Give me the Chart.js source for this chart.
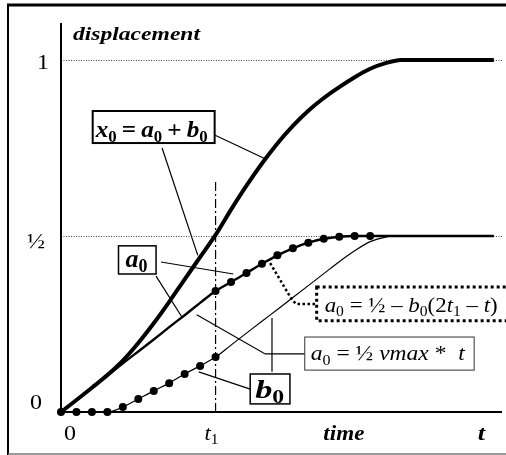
<!DOCTYPE html>
<html>
<head>
<meta charset="utf-8">
<script src="https://cdn.jsdelivr.net/npm/chart.js@4.4.0/dist/chart.umd.min.js"></script>
<style>
  html, body { margin: 0; padding: 0; background: #fff; }
  canvas { display: block; }
</style>
</head>
<body>
<canvas id="chart" width="506" height="455"></canvas>
<script>
// time axis in units of t1
const TIME = [0, 0.1, 0.2, 0.3, 0.4, 0.5, 0.6, 0.7, 0.8, 0.9, 1.0, 1.1, 1.2, 1.3, 1.4,
              1.5, 1.6, 1.7, 1.8, 1.9, 2.0, 2.1, 2.2, 2.3, 2.4, 2.5, 2.6, 2.7, 2.8];
// total displacement x0 = a0 + b0
const X0 = [0, 0.034, 0.069, 0.105, 0.146, 0.196, 0.252, 0.313, 0.377, 0.440, 0.503, 0.575, 0.643, 0.706, 0.763,
            0.813, 0.856, 0.892, 0.923, 0.951, 0.975, 0.991, 1.0, 1.0, 1.0, 1.0, 1.0, 1.0, 1.0];
const A0 = [0, 0.034, 0.069, 0.103, 0.138, 0.172, 0.206, 0.241, 0.275, 0.310, 0.344, 0.369, 0.395, 0.421, 0.445,
            0.465, 0.481, 0.492, 0.498, 0.5, 0.5, 0.5, 0.5, 0.5, 0.5, 0.5, 0.5, 0.5, 0.5];
const B0 = [0, 0, 0, 0, 0.014, 0.037, 0.060, 0.082, 0.108, 0.131, 0.156, 0.190, 0.224, 0.258, 0.291,
            0.325, 0.359, 0.393, 0.427, 0.458, 0.484, 0.497, 0.5, 0.5, 0.5, 0.5, 0.5, 0.5, 0.5];
const Y_TICKS = [0, 0.5, 1];
const Y_LABELS = ['0', '½', '1'];
const T1 = 1;
const T1_MARK_TOP = 0.66;

const pts = (ys, from, to) => TIME.slice(from, to).map((t, i) => ({x: t, y: ys[from + i]}));

const SERIF = '"Liberation Serif", "Times New Roman", serif';
const fontOf = (size, st) =>
  (st.includes('i') ? 'italic ' : '') + (st.includes('b') ? 'bold ' : '') + size + 'px ' + SERIF;
const TH = '\u2009';

// runs: [text, style, subscript]
function drawRuns(ctx, runs, x, y, size, width, align) {
  const parts = runs.map(([t, st, sub]) => {
    const f = fontOf(sub ? Math.round(size * 0.68) : size, st || '');
    ctx.font = f;
    return {t, f, sub, w: ctx.measureText(t).width};
  });
  const total = parts.reduce((s, p) => s + p.w, 0);
  const sx = width ? width / total : 1.2;
  ctx.save();
  ctx.translate(x, y);
  ctx.scale(sx, 1);
  let cx = align === 'center' ? -total / 2 : 0;
  ctx.fillStyle = '#000';
  ctx.textBaseline = 'alphabetic';
  ctx.textAlign = 'left';
  for (const p of parts) {
    ctx.font = p.f;
    ctx.fillText(p.t, cx, p.sub ? size * 0.2 : 0);
    cx += p.w;
  }
  ctx.restore();
}

// callout boxes: corners in data units, text offset inside in px
const BOXES = [
  {box: [0.205, 0.855, 0.994, 0.764], lw: 2, size: 24, dx: 3, base: 6, w: 112,
   runs: [['x', 'bi'], ['0', 'b', 1], [TH + '=' + TH, 'b'], ['a', 'bi'], ['0', 'b', 1], [TH + '+' + TH, 'b'], ['b', 'bi'], ['0', 'b', 1]]},
  {box: [0.372, 0.472, 0.615, 0.392], lw: 1.5, size: 26, dx: 7, base: 7, w: 22,
   runs: [['a', 'bi'], ['0', 'b', 1]]},
  {box: [1.224, 0.108, 1.481, 0.023], lw: 1.5, size: 26, dx: 5, base: 6, w: 29,
   runs: [['b', 'bi'], ['0', 'b', 1]]},
  {box: [1.577, 0.213, 2.673, 0.119], lw: 1, size: 22, dx: 6, base: 10, w: 154,
   runs: [['a', 'i'], ['0', '', 1], [' = ½ '], ['vmax', 'i'], [' *  '], ['t', 'i']]},
  {box: [1.654, 0.355, 2.9, 0.259], lw: 3, dash: [3, 3], size: 22, dx: 8, base: 9, w: 173,
   runs: [['a', 'i'], ['0', '', 1], [' = ½ – '], ['b', 'i'], ['0', '', 1], ['(2'], ['t', 'i'], ['1', '', 1], [' – '], ['t', 'i'], [')']]}
];

// leader lines from the callouts to the curves (data units)
const LEADERS = [
  {p: [[0.994, 0.787], [1.327, 0.718]]},
  {p: [[0.654, 0.75], [0.885, 0.445]]},
  {p: [[0.647, 0.426], [1.115, 0.392]]},
  {p: [[0.615, 0.386], [0.782, 0.270]]},
  {p: [[0.891, 0.114], [1.224, 0.065]]},
  {p: [[1.365, 0.267], [1.365, 0.114]]},
  {p: [[0.878, 0.276], [1.321, 0.165], [1.577, 0.165]]},
  {p: [[1.353, 0.423], [1.487, 0.324], [1.519, 0.307], [1.654, 0.307]], dotted: true}
];

const decor = {
  id: 'decor',
  beforeDatasetsDraw(chart) {
    const {ctx, chartArea: a, scales: {y}} = chart;
    ctx.save();
    // dotted guide lines at ½ and 1
    ctx.strokeStyle = '#444';
    ctx.lineWidth = 1;
    ctx.setLineDash([1, 1.5]);
    Y_TICKS.filter(v => v > 0).forEach(v => {
      const py = Math.round(y.getPixelForValue(v)) + 0.5;
      ctx.beginPath(); ctx.moveTo(a.left, py); ctx.lineTo(a.right, py); ctx.stroke();
    });
    ctx.setLineDash([]);
    // axes
    ctx.strokeStyle = '#000';
    ctx.lineWidth = 2;
    ctx.beginPath();
    ctx.moveTo(a.left, a.top); ctx.lineTo(a.left, a.bottom); ctx.lineTo(a.right, a.bottom);
    ctx.stroke();
    ctx.restore();
  },
  afterDatasetsDraw(chart) {
    const {ctx, chartArea: a, scales: {x, y}} = chart;
    const P = (t, v) => [x.getPixelForValue(t), y.getPixelForValue(v)];
    ctx.save();
    ctx.strokeStyle = '#000';
    LEADERS.forEach(l => {
      ctx.lineWidth = l.dotted ? 2.5 : 1.2;
      ctx.setLineDash(l.dotted ? [2.5, 2.5] : []);
      ctx.beginPath();
      l.p.forEach(([t, v], i) => { const [px, py] = P(t, v); i ? ctx.lineTo(px, py) : ctx.moveTo(px, py); });
      ctx.stroke();
    });
    ctx.setLineDash([]);

    BOXES.forEach(b => {
      const [l, t] = P(b.box[0], b.box[1]);
      const [r, bt] = P(b.box[2], b.box[3]);
      ctx.fillStyle = '#fff';
      ctx.fillRect(l, t, r - l, bt - t);
      ctx.lineWidth = b.lw;
      ctx.strokeStyle = b.lw < 1.2 ? '#333' : '#000';
      ctx.setLineDash(b.dash || []);
      ctx.strokeRect(l, t, r - l, bt - t);
      ctx.setLineDash([]);
      drawRuns(ctx, b.runs, l + b.dx, bt - b.base, b.size, b.w, 'left');
    });

    // axis titles and tick labels
    drawRuns(ctx, [['displacement', 'bi']], a.left + 12, a.top + 17, 18, 127, 'left');
    const yLabelX = [36, 36, 43];
    const yLabelDy = [-3, 12, 9];
    Y_TICKS.forEach((v, i) => {
      drawRuns(ctx, [[Y_LABELS[i]]], yLabelX[i], y.getPixelForValue(v) + yLabelDy[i], 20, null, 'center');
    });
    const base = a.bottom + 28;
    drawRuns(ctx, [['0']], x.getPixelForValue(0) + 9, base, 20, null, 'center');
    drawRuns(ctx, [['t', 'i'], ['1', '', 1]], x.getPixelForValue(T1) - 4, base, 22, 14, 'center');
    drawRuns(ctx, [['time', 'bi']], x.getPixelForValue(1.83), base, 21, 41, 'center');
    drawRuns(ctx, [['t', 'bi']], x.getPixelForValue(2.72), base, 22, null, 'center');

    // outer frame
    ctx.strokeStyle = '#000';
    ctx.lineWidth = 3;
    ctx.beginPath(); ctx.moveTo(7, 5); ctx.lineTo(506, 5); ctx.stroke();
    ctx.lineWidth = 2;
    ctx.beginPath(); ctx.moveTo(8, 5); ctx.lineTo(8, 455); ctx.stroke();
    ctx.strokeStyle = '#777';
    ctx.lineWidth = 1.5;
    ctx.beginPath(); ctx.moveTo(8, 454); ctx.lineTo(506, 454); ctx.stroke();
    ctx.restore();
  }
};

const smooth = {cubicInterpolationMode: 'monotone', pointRadius: 0, fill: false, clip: false};

new Chart(document.getElementById('chart'), {
  type: 'line',
  data: {
    datasets: [
      {label: 'b0', data: pts(B0, 0, TIME.length), borderColor: '#000', borderWidth: 1.2, ...smooth},
      {label: 'a0', data: pts(A0, 0, TIME.length), borderColor: '#000', borderWidth: 2.4, ...smooth},
      {label: 'x0', data: pts(X0, 0, TIME.length), borderColor: '#000', borderWidth: 4, ...smooth},
      {label: 'b0 samples', data: pts(B0, 0, 11), showLine: false, pointRadius: 4,
       pointBackgroundColor: '#000', pointBorderWidth: 0, clip: false},
      {label: 'a0 samples', data: pts(A0, 10, 21), showLine: false, pointRadius: 4,
       pointBackgroundColor: '#000', pointBorderWidth: 0, clip: false},
      {label: 't1', data: [{x: T1, y: 0}, {x: T1, y: T1_MARK_TOP}], borderColor: '#000', borderWidth: 1.2,
       borderDash: [9, 3, 2, 3], pointRadius: 0, clip: false}
    ]
  },
  options: {
    responsive: false,
    animation: false,
    devicePixelRatio: 1,
    layout: {padding: {left: 61, top: 23, right: 0, bottom: 43}},
    scales: {
      x: {type: 'linear', min: 0, max: 2.853, display: false},
      y: {type: 'linear', min: 0, max: 1.105, display: false}
    },
    plugins: {legend: {display: false}, tooltip: {enabled: false}}
  },
  plugins: [decor]
});
</script>
</body>
</html>
